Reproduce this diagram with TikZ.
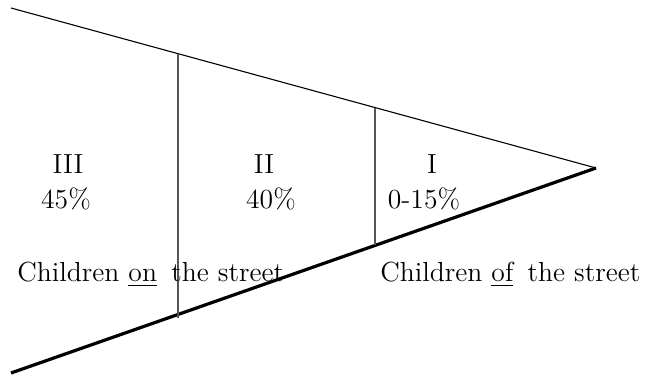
\documentclass[tikz,border=0pt]{standalone}
\usepackage{tikz}
\usetikzlibrary{calc}
\definecolor{wedgeink}{HTML}{000000}
\definecolor{cutgray}{HTML}{555555}

\begin{document}
\begin{tikzpicture}[x=0.5pt, y=0.5pt, font=\fontsize{13.8}{16.5}\selectfont,
    lbl/.style={inner sep=0pt, anchor=base, wedgeink}]
    \useasboundingbox (0,0) rectangle (648,375);
    %% --- Wedge: thin upper edge, thick lower edge ---
    \coordinate (topleft) at (11,367);
    \coordinate (botleft) at (11,2);
    \coordinate (apex) at (596,207);
    \draw[line width=0.55pt, wedgeink] (topleft) -- (apex);
    \draw[line width=1.6pt, wedgeink] (botleft) -- (apex);
    %% --- Dividers between the zones ---
    \coordinate (cutAtop) at ($(topleft)!0.2855!(apex)$);
    \coordinate (cutAbot) at ($($(botleft)!0.2855!(apex)$)+(0,-4)$);
    \coordinate (cutBtop) at ($(topleft)!0.6222!(apex)$);
    \coordinate (cutBbot) at ($(botleft)!0.6222!(apex)$);
    \draw[line width=0.6pt, cutgray] (cutAtop) -- (cutAbot);
    \draw[line width=0.6pt, cutgray] (cutBtop) -- (cutBbot);
    %% --- Zone numbers and shares ---
    \foreach \nm/\x/\y/\t in {zoneC/68/201/III, shareC/66/166/45\%,
                              zoneB/264/201/II, shareB/271/166/40\%,
                              zoneA/432/201/I,  shareA/424/166/0-15\%} {
      \node[lbl] (\nm) at (\x,\y) {\t};
    }
    %% --- Bottom captions ---
    \node[lbl, anchor=base west] (onstreet) at (17,93)
      {Children \underline{on}\hspace{2.7pt} the street};
    \node[lbl, anchor=base west] (ofstreet) at (380,93)
      {Children \underline{of}\hspace{2.7pt} the street};
  \end{tikzpicture}
\end{document}
